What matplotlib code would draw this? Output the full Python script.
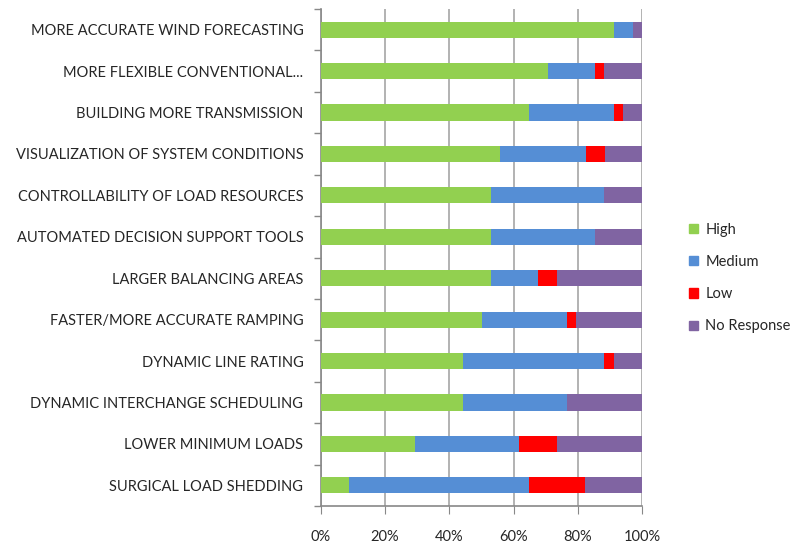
import matplotlib
matplotlib.use("Agg")
import matplotlib.pyplot as plt
import numpy as np
from matplotlib.ticker import PercentFormatter
from matplotlib.patches import Patch

plt.rcParams["font.family"] = ["Lato", "DejaVu Sans"]

categories = [
    "MORE ACCURATE WIND FORECASTING",
    "MORE FLEXIBLE CONVENTIONAL...",
    "BUILDING MORE TRANSMISSION",
    "VISUALIZATION OF SYSTEM CONDITIONS",
    "CONTROLLABILITY OF LOAD RESOURCES",
    "AUTOMATED DECISION SUPPORT TOOLS",
    "LARGER BALANCING AREAS",
    "FASTER/MORE ACCURATE RAMPING",
    "DYNAMIC LINE RATING",
    "DYNAMIC INTERCHANGE SCHEDULING",
    "LOWER MINIMUM LOADS",
    "SURGICAL LOAD SHEDDING",
]
high = [91.2, 70.6, 64.7, 55.9, 52.9, 52.9, 52.9, 50.0, 44.1, 44.1, 29.4, 8.8]
medium = [5.9, 14.7, 26.5, 26.5, 35.3, 32.4, 14.7, 26.5, 44.1, 32.4, 32.4, 55.9]
low = [0.0, 2.9, 2.9, 5.9, 0.0, 0.0, 5.9, 2.9, 2.9, 0.0, 11.8, 17.6]
no_response = [2.9, 11.8, 5.9, 11.8, 11.8, 14.7, 26.5, 20.6, 8.8, 23.5, 26.5, 17.6]

series = [("High", high, "#92D050"), ("Medium", medium, "#558ED5"),
          ("Low", low, "#FF0000"), ("No Response", no_response, "#8064A2")]

fig = plt.figure(figsize=(7.94, 5.44), dpi=100)
ax = fig.add_axes([320.7 / 794, 1 - 506 / 544, 321.6 / 794, 497 / 544])

y = np.arange(len(categories))
left = np.zeros(len(categories))
for name, vals, color in series:
    vals = np.array(vals)
    ax.barh(y, vals, left=left, height=0.39, color=color, label=name, zorder=3)
    left += vals

ax.set_ylim(len(categories) - 0.5, -0.5)
ax.set_xlim(0, 100)
ax.set_xticks(np.arange(0, 101, 20))
ax.xaxis.set_major_formatter(PercentFormatter(decimals=0))
ax.set_yticks(y)
ax.set_yticklabels(categories)
ax.set_yticks(np.arange(-0.5, len(categories), 1), minor=True)
ax.tick_params(axis="y", which="major", length=0, pad=12.5, labelsize=10.5,
               labelcolor="#262626")
ax.tick_params(axis="y", which="minor", length=5, color="#888888", width=1)
ax.tick_params(axis="x", length=6, color="#888888", labelsize=10.5,
               labelcolor="#262626", pad=11.5)
ax.grid(axis="x", color="#A6A6A6", lw=1.2, zorder=0)
for side in ("top", "right"):
    ax.spines[side].set_visible(False)
for side in ("left", "bottom"):
    ax.spines[side].set_color("#888888")
    ax.spines[side].set_linewidth(1.2)

handles = [Patch(color=c, label=n) for n, _, c in series]
fig.legend(handles=handles, loc="center left", bbox_to_anchor=(676 / 794, 1 - 278 / 544),
           frameon=False, fontsize=10.5, handlelength=0.6, handleheight=0.6,
           handletextpad=0.5, labelspacing=1.25, labelcolor="#262626")

fig.savefig("out.png", dpi=100)
